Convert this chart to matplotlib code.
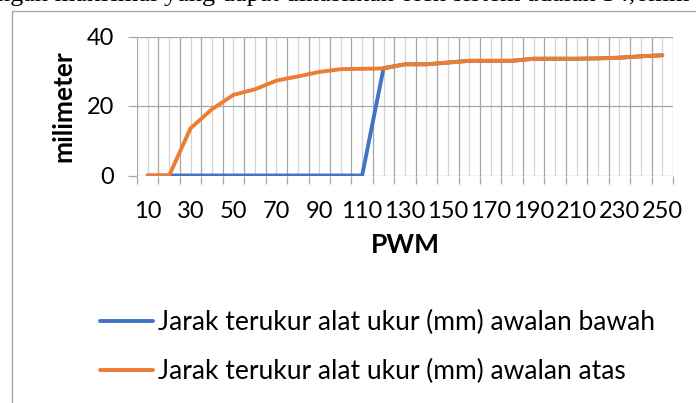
import numpy as np
import matplotlib
matplotlib.use("Agg")
import matplotlib.pyplot as plt
from matplotlib.patches import Rectangle
from matplotlib.ticker import FixedLocator, FixedFormatter

# data
pwm = [10, 20, 30, 40, 50, 60, 70, 80, 90, 100, 110, 120, 130,
       140, 150, 160, 170, 180, 190, 200, 210, 220, 230, 240, 250]
awalan_bawah = [0, 0, 0, 0, 0, 0, 0, 0, 0, 0, 0, 30.9, 32.0,
                32.0, 32.5, 33.0, 33.0, 33.0, 33.6, 33.6, 33.6, 33.7, 33.9, 34.3, 34.6]
awalan_atas = [0, 0, 13.6, 19.1, 23.2, 24.8, 27.3, 28.5, 29.8, 30.6, 30.7, 30.8, 32.0,
               32.0, 32.5, 33.0, 33.0, 33.0, 33.6, 33.6, 33.6, 33.7, 33.9, 34.3, 34.6]
label_bawah = 'Jarak terukur alat ukur (mm) awalan bawah'
label_atas = 'Jarak terukur alat ukur (mm) awalan atas'
yticks = [0, 20, 40]

plt.rcParams['font.family'] = ['Lato', 'DejaVu Sans']
fs = 19        # titles and legend
fs_tick = 17

fig = plt.figure(figsize=(6.96, 4.03), dpi=100)
ax = fig.add_axes([137 / 696, 1 - 175.5 / 403, 536 / 696, 139 / 403])

# clipped line of document text above the chart
fig.text(-0.005, 1 - 0.5 / 403, 'ngan maksimal yang dapat dihasilkan oleh sistem adalah 34,6mm',
         family='Liberation Serif', fontsize=19, va='baseline', ha='left')

# chart frame (runs off the right and bottom of the image)
fig.patches.append(Rectangle((11.5 / 696, -0.2), 1.2, 1.2 - 11 / 403,
                             transform=fig.transFigure, fill=False,
                             edgecolor='#a6a6a6', linewidth=1.0))

x = np.arange(len(pwm))
ax.plot(x, awalan_bawah, color='#4472C4', linewidth=2.8, label=label_bawah,
        solid_capstyle='round', zorder=3)
ax.plot(x, awalan_atas, color='#ED7D31', linewidth=2.8, label=label_atas,
        solid_capstyle='round', zorder=4)

ax.set_xlim(-0.5, len(pwm) - 0.5)
ax.set_ylim(0, 40)

# category boundaries carry the tick marks, centres carry every other label
ax.xaxis.set_major_locator(FixedLocator(np.arange(-0.5, len(pwm), 1.0)))
ax.xaxis.set_major_formatter(FixedFormatter([''] * (len(pwm) + 1)))
ax.xaxis.set_minor_locator(FixedLocator(x))
ax.xaxis.set_minor_formatter(FixedFormatter([str(p) if i % 2 == 0 else '' for i, p in enumerate(pwm)]))
ax.tick_params(axis='x', which='major', direction='out', length=6, width=0.9, color='#a6a6a6')
ax.tick_params(axis='x', which='minor', length=0, pad=18, labelsize=fs_tick)

ax.set_yticks(yticks)
ax.tick_params(axis='y', direction='out', length=6.5, width=0.9, color='#a6a6a6',
               pad=10, labelsize=fs_tick)

ax.grid(True, which='major', axis='both', color='#a6a6a6', linewidth=0.9)
ax.grid(True, which='minor', axis='x', color='#d4d4d4', linewidth=0.9)
ax.set_axisbelow(True)
for s in ax.spines.values():
    s.set_visible(False)

ax.set_xlabel('PWM', fontsize=fs, fontweight='bold')
ax.xaxis.set_label_coords(0.5, -69 / 139)
ax.xaxis.label.set_va('center')
ax.set_ylabel('milimeter', fontsize=fs, fontweight='bold')
ax.yaxis.set_label_coords(-74 / 536, 0.5)
ax.yaxis.label.set_va('center')

fig.legend(loc='center left', bbox_to_anchor=(100 / 696, 1 - 347 / 403),
           frameon=False, fontsize=fs, handlelength=2.0, handletextpad=0.2,
           labelspacing=0.9, borderpad=0, borderaxespad=0)

fig.savefig('out.png', dpi=100)
